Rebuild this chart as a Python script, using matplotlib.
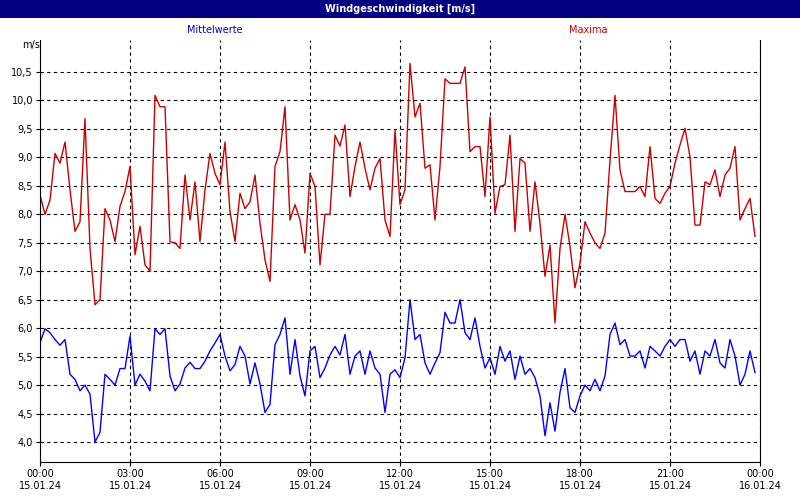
import matplotlib
matplotlib.use("Agg")
import matplotlib.pyplot as plt
import numpy as np

maxima = [8.34,8.0,8.25,9.07,8.9,9.27,8.43,7.7,7.87,9.68,7.4,6.41,6.5,8.1,7.9,7.52,8.14,8.4,8.84,7.29,
          7.79,7.11,7.0,10.09,9.89,9.89,7.52,7.5,7.4,8.69,7.9,8.57,7.52,8.43,9.07,8.72,8.52,9.27,8.05,7.52,
          8.37,8.1,8.22,8.69,7.84,7.2,6.82,8.84,9.1,9.89,7.9,8.17,7.9,7.32,8.72,8.49,7.11,8.0,8.0,9.39,
          9.2,9.57,8.31,8.84,9.27,8.81,8.43,8.81,8.98,7.9,7.61,9.48,8.17,8.43,10.65,9.71,9.95,8.81,8.87,7.9,
          8.84,10.38,10.3,10.3,10.3,10.59,9.1,9.19,9.19,8.31,9.71,8.02,8.49,8.52,9.39,7.7,8.98,8.9,7.7,8.57,
          7.84,6.91,7.46,6.09,7.4,8.0,7.44,6.71,7.14,7.87,7.67,7.5,7.4,7.67,8.95,10.09,8.78,8.4,8.4,8.4,
          8.49,8.31,9.19,8.28,8.19,8.37,8.49,8.9,9.22,9.51,9.01,7.81,7.81,8.57,8.52,8.78,8.31,8.69,8.81,9.19,
          7.9,8.1,8.28,7.61]
mittel = [5.74,5.99,5.92,5.8,5.7,5.8,5.19,5.1,4.9,5.0,4.84,4.0,4.17,5.19,5.1,5.0,5.29,5.29,5.86,5.0,
          5.19,5.07,4.9,5.99,5.89,5.99,5.16,4.9,5.02,5.3,5.4,5.29,5.29,5.42,5.6,5.74,5.89,5.51,5.25,5.36,
          5.68,5.51,5.02,5.39,5.02,4.52,4.66,5.71,5.89,6.18,5.19,5.8,5.16,4.81,5.6,5.68,5.13,5.3,5.53,5.68,
          5.53,5.89,5.19,5.51,5.6,5.19,5.6,5.3,5.19,4.52,5.19,5.27,5.13,5.48,6.5,5.8,5.89,5.39,5.19,5.39,
          5.57,6.28,6.09,6.09,6.5,5.92,5.8,6.18,5.68,5.3,5.48,5.19,5.68,5.42,5.6,5.1,5.51,5.19,5.29,5.13,
          4.81,4.11,4.69,4.19,4.87,5.29,4.6,4.52,4.81,5.0,4.9,5.1,4.9,5.16,5.89,6.09,5.71,5.8,5.51,5.51,
          5.6,5.3,5.68,5.6,5.51,5.68,5.8,5.68,5.8,5.8,5.42,5.6,5.19,5.6,5.51,5.8,5.39,5.3,5.8,5.51,
          5.0,5.19,5.6,5.22]
yticks = [4.0,4.5,5.0,5.5,6.0,6.5,7.0,7.5,8.0,8.5,9.0,9.5,10.0,10.5]
xtick_labels = ["00:00\n15.01.24","03:00\n15.01.24","06:00\n15.01.24","09:00\n15.01.24","12:00\n15.01.24",
                "15:00\n15.01.24","18:00\n15.01.24","21:00\n15.01.24","00:00\n16.01.24"]

hours = np.arange(len(maxima)) / 6.0

fig = plt.figure(figsize=(8, 5), dpi=100)
fig.patch.set_facecolor("white")
# title bar
fig.patches.append(plt.Rectangle((0, 1-18/500), 1, 18/500, transform=fig.transFigure,
                                 facecolor="#000080", edgecolor="none", zorder=0))
fig.text(0.5, 1-9/500, "Windgeschwindigkeit [m/s]", color="white", fontsize=7, fontweight="bold",
         ha="center", va="center", family="DejaVu Sans")
ax = fig.add_axes([40/800, 1-462/500, 720/800, 422/500])
ax.plot(hours, maxima, color="#cc0000", lw=1)
ax.plot(hours, mittel, color="#0000ff", lw=1)
ax.set_xlim(0, 24)
ax.set_ylim(4.0-20/56.9, 10.5+32/56.9)
ax.set_yticks(yticks)
ax.set_yticklabels([f"{v:.1f}".replace(".", ",") for v in yticks], fontsize=7)
ax.set_xticks(np.arange(0, 25, 3))
ax.set_xticklabels(xtick_labels, fontsize=7)
ax.grid(True, color="black", linestyle=(0, (3, 3)), lw=0.8)
ax.tick_params(length=3, pad=2)
for s in ["top", "right"]:
    ax.spines[s].set_visible(False)
ax.spines["right"].set_visible(True)
fig.text(215/800, 1-30/500, "Mittelwerte", color="#0000cc", fontsize=7, ha="center", va="center")
fig.text(588/800, 1-30/500, "Maxima", color="#cc0000", fontsize=7, ha="center", va="center")
fig.text(22/800, 1-45/500, "m/s", fontsize=7, ha="left", va="center")
fig.savefig("out.png", dpi=100)
